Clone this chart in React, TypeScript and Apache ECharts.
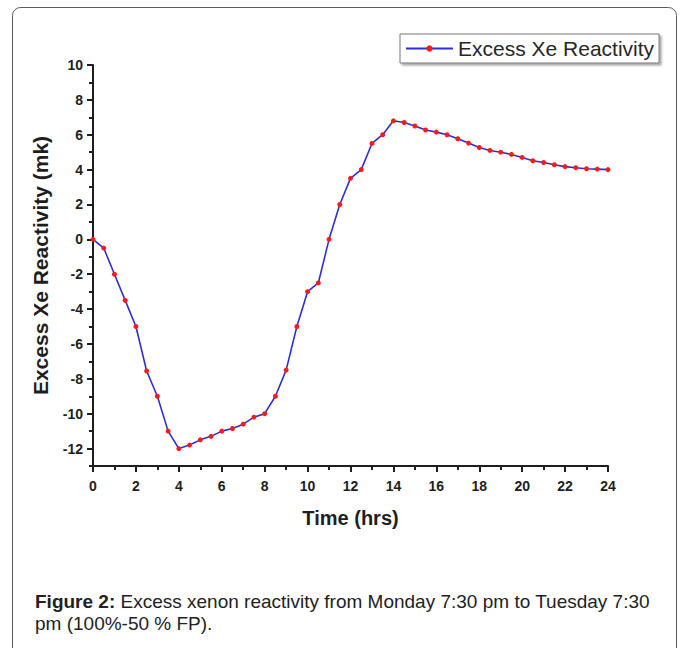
import React, { useEffect, useRef } from "react";
import * as echarts from "echarts";

// Time since the start of the transient, in hours
const timeHours = [
  0, 0.5, 1, 1.5, 2, 2.5, 3, 3.5, 4, 4.5, 5, 5.5, 6, 6.5, 7, 7.5, 8, 8.5, 9, 9.5,
  10, 10.5, 11, 11.5, 12, 12.5, 13, 13.5, 14, 14.5, 15, 15.5, 16, 16.5, 17, 17.5,
  18, 18.5, 19, 19.5, 20, 20.5, 21, 21.5, 22, 22.5, 23, 23.5, 24,
];

// Excess xenon reactivity (mk)
const reactivity = [
  0, -0.5, -2, -3.5, -5, -7.55, -9, -11, -12, -11.8, -11.5, -11.3, -11, -10.85,
  -10.6, -10.2, -10, -9, -7.5, -5, -3, -2.5, 0, 2, 3.5, 4, 5.5, 6, 6.8, 6.7, 6.5,
  6.27, 6.15, 6.0, 5.77, 5.52, 5.27, 5.1, 5.0, 4.87, 4.7, 4.51, 4.41, 4.28, 4.17,
  4.11, 4.05, 4.03, 4.0,
];

const seriesName = "Excess Xe Reactivity";

// Labelled (major) and unlabelled (minor) ticks
const yMajorTicks = [-12, -10, -8, -6, -4, -2, 0, 2, 4, 6, 8, 10];
const yMinorTicks = [-13, -11, -9, -7, -5, -3, -1, 1, 3, 5, 7, 9];
const xMajorTicks = [0, 2, 4, 6, 8, 10, 12, 14, 16, 18, 20, 22, 24];
const xMinorTicks = [1, 3, 5, 7, 9, 11, 13, 15, 17, 19, 21, 23];

const captionLine1 = "Excess xenon reactivity from Monday 7:30 pm to Tuesday 7:30";
const captionLine2 = "pm (100%-50 % FP).";

const FONT = '"Liberation Sans", Arial, Helvetica, sans-serif';
const INK = "#1e1e1e";

export default function App() {
  const ref = useRef<HTMLDivElement>(null);

  useEffect(() => {
    if (!ref.current) return;
    const chart = echarts.init(ref.current, null, { renderer: "svg" });

    const axisLine = { show: true, onZero: false, lineStyle: { color: INK, width: 2 } };
    const tickLabel = {
      fontFamily: FONT,
      fontWeight: "bold" as const,
      fontSize: 14,
      color: INK,
    };

    chart.setOption({
      animation: false,
      backgroundColor: "#ffffff",
      textStyle: { fontFamily: FONT },
      grid: { left: 93, right: 72, top: 65, bottom: 182, containLabel: false },
      legend: {
        data: [seriesName],
        left: 400,
        top: 34,
        padding: [4, 5, 4, 5],
        itemWidth: 47,
        itemHeight: 8,
        borderColor: "#777",
        borderWidth: 1,
        backgroundColor: "#fff",
        shadowColor: "rgba(0,0,0,0.35)",
        shadowBlur: 2,
        shadowOffsetX: 2,
        shadowOffsetY: 2,
        textStyle: { fontFamily: FONT, fontSize: 21, lineHeight: 20, color: "#262626" },
      },
      xAxis: [
        {
          type: "value",
          min: 0,
          max: 24,
          name: "Time (hrs)",
          nameLocation: "middle",
          nameGap: 42,
          nameTextStyle: { fontFamily: FONT, fontWeight: "bold", fontSize: 20, color: INK },
          axisLine,
          axisTick: {
            show: true,
            inside: false,
            length: 6,
            customValues: xMajorTicks,
            lineStyle: { color: INK, width: 2 },
          },
          axisLabel: { ...tickLabel, margin: 13, customValues: xMajorTicks },
          splitLine: { show: false },
        },
        {
          type: "value",
          min: 0,
          max: 24,
          position: "bottom",
          axisLine: { show: false, onZero: false },
          axisTick: {
            show: true,
            inside: false,
            length: 4,
            customValues: xMinorTicks,
            lineStyle: { color: INK, width: 2 },
          },
          axisLabel: { show: false },
          splitLine: { show: false },
        },
      ],
      yAxis: [
        {
          type: "value",
          min: -13,
          max: 10,
          name: "Excess Xe Reactivity (mk)",
          nameLocation: "middle",
          nameGap: 42,
          nameTextStyle: { fontFamily: FONT, fontWeight: "bold", fontSize: 21, color: INK },
          axisLine,
          axisTick: {
            show: true,
            inside: false,
            length: 6,
            customValues: yMajorTicks,
            lineStyle: { color: INK, width: 2 },
          },
          axisLabel: { ...tickLabel, margin: 10, customValues: yMajorTicks },
          splitLine: { show: false },
        },
        {
          type: "value",
          min: -13,
          max: 10,
          position: "left",
          axisLine: { show: false, onZero: false },
          axisTick: {
            show: true,
            inside: false,
            length: 4,
            customValues: yMinorTicks,
            lineStyle: { color: INK, width: 2 },
          },
          axisLabel: { show: false },
          splitLine: { show: false },
        },
      ],
      series: [
        {
          name: seriesName,
          type: "line",
          xAxisIndex: 0,
          yAxisIndex: 0,
          data: timeHours.map((t, i) => [t, reactivity[i]]),
          symbol: "circle",
          symbolSize: 5,
          showSymbol: true,
          lineStyle: { color: "#2f2fd0", width: 1.6 },
          itemStyle: { color: "#ff1a1a", borderWidth: 0 },
          color: "#2f2fd0",
        },
      ],
      graphic: [
        {
          type: "rect",
          silent: true,
          shape: { x: 12.5, y: 7.5, width: 664, height: 680, r: 8 },
          style: { fill: "none", stroke: "#5a5a5a", lineWidth: 1 },
        },
        {
          type: "text",
          x: 35,
          y: 601,
          style: {
            text: "{b|Figure 2:} " + captionLine1,
            fontFamily: FONT,
            fontSize: 19,
            fill: "#222",
            verticalAlign: "middle",
            rich: {
              b: { fontFamily: FONT, fontSize: 19, fontWeight: "bold", fill: "#222" },
            },
          },
        },
        {
          type: "text",
          x: 35,
          y: 623,
          style: {
            text: captionLine2,
            fontFamily: FONT,
            fontSize: 19,
            fill: "#222",
            verticalAlign: "middle",
          },
        },
      ],
    });

    return () => chart.dispose();
  }, []);

  return (
    <div
      ref={ref}
      style={{ position: "absolute", left: 0, top: 0, width: 680, height: 648 }}
    />
  );
}
